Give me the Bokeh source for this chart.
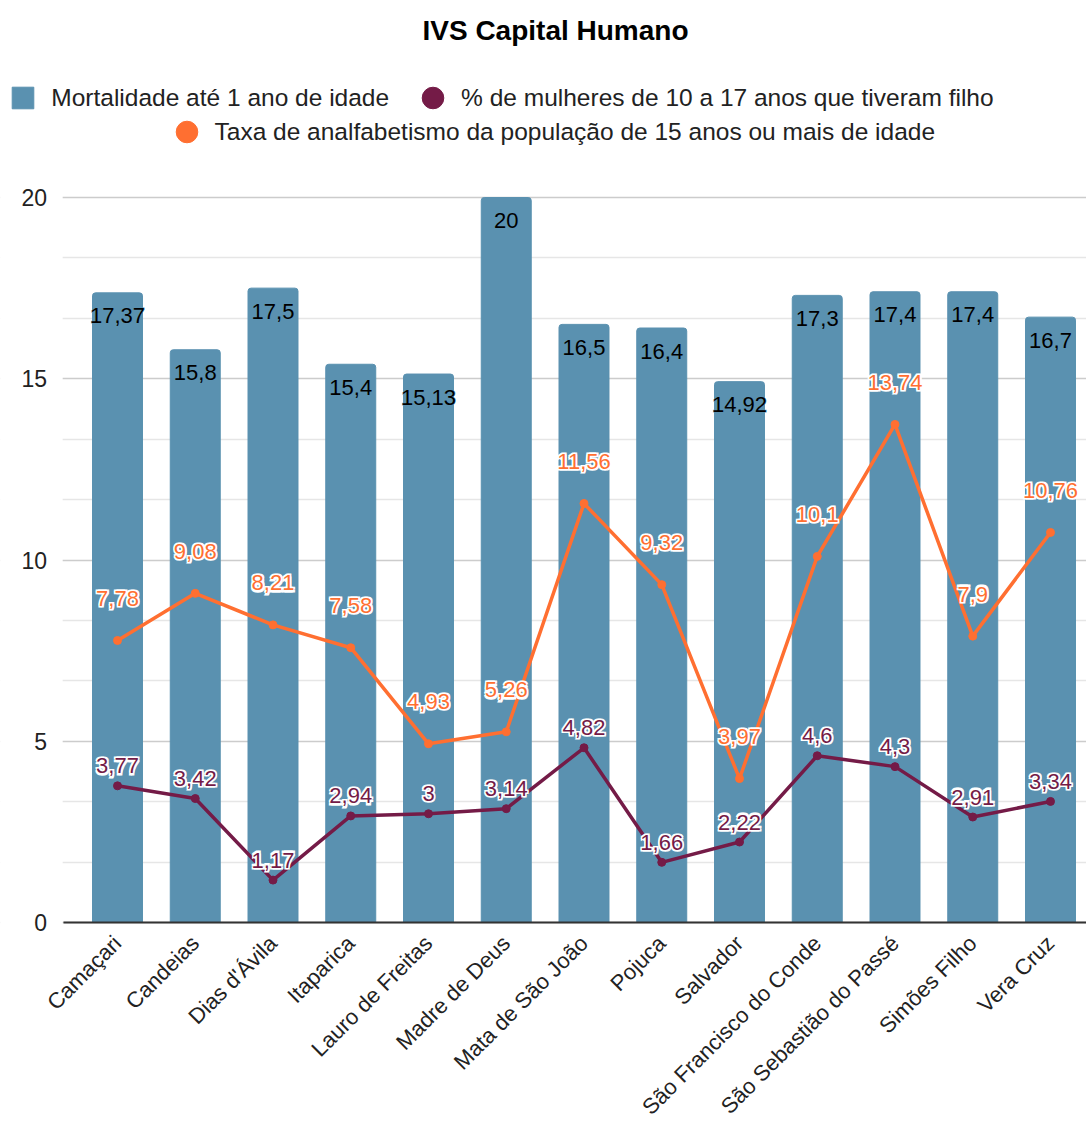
import math
from bokeh.plotting import figure
from bokeh.models import (ColumnDataSource, Range1d, FixedTicker,
                          Legend, LegendItem, Label, BoxAnnotation)
from bokeh.core.properties import value
from bokeh.embed import file_html
from bokeh.resources import INLINE

municipios = ["Camaçari", "Candeias", "Dias d'Ávila", "Itaparica", "Lauro de Freitas",
              "Madre de Deus", "Mata de São João", "Pojuca", "Salvador",
              "São Francisco do Conde", "São Sebastião do Passé", "Simões Filho", "Vera Cruz"]
mortalidade = [17.37, 15.8, 17.5, 15.4, 15.13, 20, 16.5, 16.4, 14.92, 17.3, 17.4, 17.4, 16.7]
mulheres = [3.77, 3.42, 1.17, 2.94, 3, 3.14, 4.82, 1.66, 2.22, 4.6, 4.3, 2.91, 3.34]
analfabetismo = [7.78, 9.08, 8.21, 7.58, 4.93, 5.26, 11.56, 9.32, 3.97, 10.1, 13.74, 7.9, 10.76]

serie_nomes = ["Mortalidade até 1 ano de idade",
               "% de mulheres de 10 a 17 anos que tiveram filho",
               "Taxa de analfabetismo da população de 15 anos ou mais de idade"]
titulo = "IVS Capital Humano"
y_ticks = [0, 5, 10, 15, 20]
y_minor = [5 / 3 * k for k in range(1, 12) if k % 3 != 0]

BAR = "#5a91b0"
PURPLE = "#741b47"
ORANGE = "#ff6f31"
FONT = "Liberation Sans"

W, H = 1086, 1123
PX_X = 77.75           # px per category
PX_Y = 36.25           # px per y unit
X0_PX = 117            # page x of first category
Y0_PX = 922            # page y of value 0
X_LEFT = -0.70         # visual left edge of the plotting area


def fmt(v):
    return f"{v:g}".replace(".", ",")


xs = list(range(len(municipios)))
src = ColumnDataSource(dict(
    x=xs,
    mort=mortalidade, mort_lbl=[fmt(v) for v in mortalidade],
    mul=mulheres, mul_lbl=[fmt(v) for v in mulheres],
    anal=analfabetismo, anal_lbl=[fmt(v) for v in analfabetismo],
))

x_start = -X0_PX / PX_X
x_end = (W - X0_PX) / PX_X
y_start = -(H - Y0_PX) / PX_Y
y_end = Y0_PX / PX_Y
p = figure(width=W, height=H, output_backend="svg", toolbar_location=None,
           x_range=Range1d(x_start, x_end), y_range=Range1d(y_start, y_end),
           min_border_left=0, min_border_right=0, min_border_top=0, min_border_bottom=0)
p.outline_line_color = None
p.background_fill_color = "white"
p.border_fill_color = "white"

# x axis drawn inside the frame at y = 0
p.xaxis.fixed_location = 0
p.xaxis.ticker = FixedTicker(ticks=xs)
p.xaxis.major_label_overrides = {i: m for i, m in enumerate(municipios)}
p.xaxis.major_label_orientation = math.pi / 4
p.xaxis.major_label_text_font = FONT
p.xaxis.major_label_text_font_size = "22px"
p.xaxis.major_label_text_color = "#222222"
p.xaxis.axis_line_color = "#333333"
p.xaxis.axis_line_width = 2
p.xaxis.bounds = (X_LEFT, x_end)
p.xaxis.major_tick_line_color = None
p.xaxis.minor_tick_line_color = None
p.xaxis.major_label_standoff = 11
p.xgrid.grid_line_color = None

# y axis drawn inside the frame at the left edge of the plotting area
yt = FixedTicker(ticks=y_ticks, minor_ticks=y_minor)
p.yaxis.ticker = yt
p.ygrid.ticker = yt
p.yaxis.fixed_location = X_LEFT
p.yaxis.axis_line_color = None
p.yaxis.major_tick_line_color = None
p.yaxis.minor_tick_line_color = None
p.yaxis.major_label_text_font = FONT
p.yaxis.major_label_text_font_size = "23px"
p.yaxis.major_label_text_color = "#222222"
p.yaxis.major_label_standoff = 10
p.ygrid.grid_line_color = "#cccccc"
p.ygrid.grid_line_width = 1.5
p.ygrid.minor_grid_line_color = "#e6e6e6"
p.ygrid.minor_grid_line_width = 1.5

# hide grid lines left of the plotting area
p.add_layout(BoxAnnotation(left=x_start - 1, right=X_LEFT - 0.005, bottom=y_start - 1,
                           top=y_end + 1, fill_color="white", fill_alpha=1,
                           line_color=None, level="underlay"))

bars = p.vbar(x="x", top="mort", bottom=0, width=0.643, source=src,
              fill_color=BAR, line_color=BAR, border_radius=(3, 3, 0, 0))


def halo_text(ycol, tcol, yoff, color, halo, thick):
    kw = dict(x="x", y=ycol, text=tcol, source=src,
              text_align="center", text_baseline="middle",
              text_font=value(FONT), text_font_size="22px")
    offs = [(0, 0)]
    if thick:
        offs += [(-1.2, -1.2), (1.2, -1.2), (-1.2, 1.2), (1.2, 1.2)]
    for dx, dy in offs:
        p.text(text_color=halo, text_outline_color=halo, x_offset=dx, y_offset=yoff + dy, **kw)
    p.text(text_color=color, y_offset=yoff, **kw)


halo_text("mort", "mort_lbl", 23, "black", BAR, False)

p.line(x="x", y="mul", source=src, line_color=PURPLE, line_width=3.5)
p.scatter(x="x", y="mul", source=src, size=8, fill_color=PURPLE, line_color=PURPLE)
p.line(x="x", y="anal", source=src, line_color=ORANGE, line_width=3.5)
p.scatter(x="x", y="anal", source=src, size=8, fill_color=ORANGE, line_color=ORANGE)

halo_text("mul", "mul_lbl", -20, PURPLE, "white", True)
halo_text("anal", "anal_lbl", -42, ORANGE, "white", True)

# legend dummies (outside view)
leg_purple = p.ellipse(x=[-100], y=[-100], width=22, height=22, width_units="screen",
                       height_units="screen", fill_color=PURPLE, line_color=PURPLE)
leg_orange = p.ellipse(x=[-100], y=[-100], width=22, height=22, width_units="screen",
                       height_units="screen", fill_color=ORANGE, line_color=ORANGE)

LEG_BASE = H  # legend/label screen y measured from the frame bottom (= figure bottom)
common = dict(orientation="horizontal", glyph_width=27, glyph_height=27, label_height=27,
              label_standoff=15, spacing=30, padding=0, margin=0,
              border_line_color=None, background_fill_alpha=0,
              label_text_font=FONT, label_text_font_size="24.5px", label_text_color="#222222")
leg1 = Legend(items=[LegendItem(label=serie_nomes[0], renderers=[bars]),
                     LegendItem(label=serie_nomes[1], renderers=[leg_purple])],
              location=(9.3, LEG_BASE - 111.5), **common)
leg2 = Legend(items=[LegendItem(label=serie_nomes[2], renderers=[leg_orange])],
              location=(172.5, LEG_BASE - 145.5), **common)
p.add_layout(leg1)
p.add_layout(leg2)

p.add_layout(Label(x=555, y=LEG_BASE - 30, x_units="screen", y_units="screen", text=titulo,
                   text_align="center", text_baseline="middle", text_font=FONT,
                   text_font_size="28px", text_font_style="bold", text_color="black"))

open("out.html", "w").write(file_html(p, INLINE))
